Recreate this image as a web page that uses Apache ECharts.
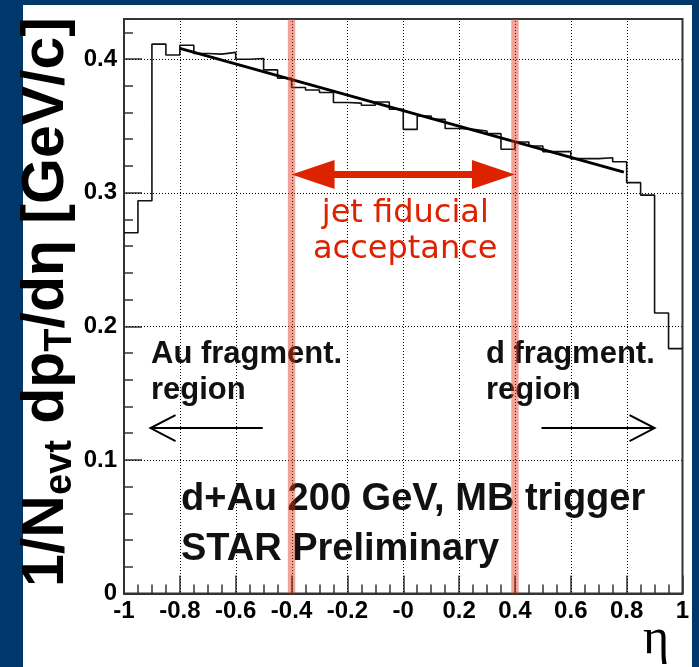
<!DOCTYPE html>
<html><head><meta charset="utf-8">
<script src="https://cdn.jsdelivr.net/npm/echarts@6/dist/echarts.min.js"></script>
<style>
html,body{margin:0;padding:0;background:#01386b;overflow:hidden;}
#panel{position:absolute;left:23px;top:5px;width:669px;height:662px;background:#fff;}
#c{position:absolute;left:0;top:0;width:699px;height:667px;}
</style>
</head><body><div id="panel"></div><div id="c"></div>
<script>
// bin edges (eta) and histogram contents
const etaEdges = [-1,-0.95,-0.9,-0.85,-0.8,-0.75,-0.7,-0.65,-0.6,-0.55,-0.5,-0.45,-0.4,-0.35,-0.3,-0.25,-0.2,-0.15,-0.1,-0.05,0,
  0.05,0.1,0.15,0.2,0.25,0.3,0.35,0.4,0.45,0.5,0.55,0.6,0.65,0.7,0.75,0.8,0.85,0.9,0.95,1];
const counts = [0.270,0.294,0.4112,0.4031,0.4104,0.4042,0.4037,0.405,0.3999,0.4004,
  0.3919,0.3857,0.3787,0.3769,0.375,0.3675,0.367,0.3654,0.3679,0.3624,
  0.3474,0.3574,0.355,0.348,0.3474,0.3462,0.3442,0.3325,0.3379,0.3349,
  0.3307,0.3307,0.3255,0.3255,0.3262,0.3232,0.3075,0.2982,0.2100,0.1833];
// linear fit
const fitEta = [-0.8, 0.79];
const fitVal = [0.408, 0.3154];
// tick labels and grid positions
const xTickLabels = ['-1','-0.8','-0.6','-0.4','-0.2','-0','0.2','0.4','0.6','0.8','1'];
const yTickLabels = ['0','0.1','0.2','0.3','0.4'];
const xGridVals = [-0.8,-0.6,-0.4,-0.2,0,0.2,0.4,0.6,0.8];
const yGridVals = [0.1,0.2,0.3,0.4];
// jet fiducial acceptance boundaries and arrow level
const bandEta = [-0.4, 0.4];
const accArrowVal = 0.3137;
// fragmentation region arrows: [from, to] in eta, at value
const auArrowEta = [-0.503, -0.905];
const dArrowEta = [0.495, 0.9];
const fragArrowVal = 0.1238;

const histData = etaEdges.map((e, i) => [e, i < counts.length ? counts[i] : counts[counts.length - 1]]);
const fitData = fitEta.map((e, i) => [e, fitVal[i]]);

const chart = echarts.init(document.getElementById('c'), null, {renderer: 'canvas'});
const gridRect = {left: 124, right: 16.5, top: 19, bottom: 73.5};
const tickColor = '#333';
const labelFont = {fontFamily: 'Liberation Sans', fontWeight: 'bold', fontSize: 24, color: '#000'};

const option = {
  animation: false,
  backgroundColor: 'transparent',
  grid: [
    Object.assign({show: true, borderColor: '#333', borderWidth: 2, backgroundColor: 'transparent'}, gridRect),
    Object.assign({show: false}, gridRect)
  ],
  xAxis: [{
    type: 'value', gridIndex: 0, min: -1, max: 1, interval: 0.2,
    axisLine: {show: true, onZero: false, lineStyle: {color: tickColor, width: 2}},
    axisTick: {show: true, inside: true, length: 18, lineStyle: {color: tickColor, width: 1.5}},
    minorTick: {show: true, splitNumber: 4, length: 9, lineStyle: {color: tickColor, width: 1.5}},
    splitLine: {show: false},
    axisLabel: Object.assign({margin: 6, formatter: v => xTickLabels[Math.round((v + 1) / 0.2)]}, labelFont)
  }, {
    type: 'value', gridIndex: 1, min: -1, max: 1, show: false
  }],
  yAxis: [{
    type: 'value', gridIndex: 0, min: 0, max: 0.43, interval: 0.1,
    axisLine: {show: true, onZero: false, lineStyle: {color: tickColor, width: 2}},
    axisTick: {show: true, inside: true, length: 18, lineStyle: {color: tickColor, width: 1.5}},
    splitLine: {show: false},
    axisLabel: Object.assign({margin: 7, formatter: v => {
      const k = Math.round(v / 0.1);
      return Math.abs(v - k * 0.1) < 1e-6 ? yTickLabels[k] : '';
    }}, labelFont)
  }, {
    type: 'value', gridIndex: 1, min: 0, max: 0.43, interval: 0.02, position: 'left',
    axisLine: {show: false, onZero: false},
    axisTick: {show: true, inside: true, length: 9, lineStyle: {color: tickColor, width: 1.5}},
    splitLine: {show: false},
    axisLabel: {show: false}
  }],
  series: [{
    type: 'line', xAxisIndex: 0, yAxisIndex: 0, step: 'end', data: histData,
    showSymbol: false, symbol: 'none',
    lineStyle: {color: '#111', width: 1.6}, z: 3
  }, {
    type: 'line', xAxisIndex: 0, yAxisIndex: 0, data: fitData,
    showSymbol: false, symbol: 'none',
    lineStyle: {color: '#000', width: 3}, z: 4
  }]
};
chart.setOption(option);

const px = (x, y) => chart.convertToPixel({gridIndex: 0}, [x, y]);
const yTop = px(0, 0.43)[1], yBot = px(0, 0)[1];
const xLeft = px(-1, 0)[0], xRight = px(1, 0)[0];
const g = [];
// dotted grid lines at the major ticks, drawn as thin rects with a dot pattern
function dotPattern(vertical) {
  const c = document.createElement('canvas');
  c.width = vertical ? 1 : 3; c.height = vertical ? 3 : 1;
  const ctx = c.getContext('2d');
  ctx.fillStyle = '#000';
  ctx.fillRect(0, 0, 1, 1);
  return {image: c, repeat: 'repeat'};
}
const patV = dotPattern(true), patH = dotPattern(false);
xGridVals.forEach(v => {
  const x = Math.round(px(v, 0)[0]);
  g.push({type: 'rect', z: 50, silent: true, shape: {x: x, y: Math.round(yTop), width: 1, height: Math.round(yBot - yTop)}, style: {fill: patV}});
});
yGridVals.forEach(v => {
  const y = Math.round(px(0, v)[1]);
  g.push({type: 'rect', z: 50, silent: true, shape: {x: Math.round(xLeft), y: y, width: Math.round(xRight - xLeft), height: 1}, style: {fill: patH}});
});
// black text annotations (y = vertical middle of the line)
const bold = (text, x, y, size) => ({
  type: 'text', z: 100, x: x, y: y,
  style: {text: text, fill: '#111', font: 'bold ' + size + 'px "Liberation Sans", Arial, sans-serif', textVerticalAlign: 'middle', textAlign: 'left'}
});
g.push(bold('Au fragment.', 151, 354, 31));
g.push(bold('region', 151, 390, 31));
g.push(bold('d fragment.', 486, 354, 31));
g.push(bold('region', 486, 390, 31));
g.push(bold('d+Au 200 GeV, MB trigger', 181, 500, 38));
g.push(bold('STAR Preliminary', 181, 550, 38));
// fragmentation arrows (open heads)
function openArrow(fromEta, toEta, val) {
  const a = px(fromEta, val), b = px(toEta, val);
  const dir = Math.sign(b[0] - a[0]);
  g.push({type: 'line', z: 100, shape: {x1: a[0], y1: a[1], x2: b[0], y2: b[1]}, style: {stroke: '#000', lineWidth: 2}});
  g.push({type: 'polyline', z: 100, shape: {points: [[b[0] - dir * 25, b[1] - 13], [b[0], b[1]], [b[0] - dir * 25, b[1] + 13]]}, style: {stroke: '#000', lineWidth: 2, fill: null}});
}
openArrow(auArrowEta[0], auArrowEta[1], fragArrowVal);
openArrow(dArrowEta[0], dArrowEta[1], fragArrowVal);
// acceptance bands
bandEta.forEach(e => {
  const c = px(e, 0)[0];
  g.push({type: 'rect', z: 110, shape: {x: c - 3.7, y: yTop, width: 7.4, height: yBot - yTop}, style: {fill: 'rgba(225,50,30,0.45)'}});
});
// red double arrow
const L = px(bandEta[0], accArrowVal), R = px(bandEta[1], accArrowVal);
const red = '#dd2200';
g.push({type: 'rect', z: 105, shape: {x: L[0] + 40, y: L[1] - 3.5, width: R[0] - L[0] - 80, height: 7}, style: {fill: red}});
g.push({type: 'polygon', z: 105, shape: {points: [[L[0], L[1]], [L[0] + 43, L[1] - 14.5], [L[0] + 43, L[1] + 14.5]]}, style: {fill: red}});
g.push({type: 'polygon', z: 105, shape: {points: [[R[0], R[1]], [R[0] - 43, R[1] - 14.5], [R[0] - 43, R[1] + 14.5]]}, style: {fill: red}});
const redText = (t, y) => ({type: 'text', z: 105, x: (L[0] + R[0]) / 2 + 2, y: y,
  style: {text: t, fill: red, font: '32px "DejaVu Sans", sans-serif', textAlign: 'center', textVerticalAlign: 'middle'}});
g.push(redText('jet fiducial', 214));
g.push(redText('acceptance', 250));
// axis titles
g.push({type: 'text', z: 100, x: 656, y: 640,
  style: {text: 'η', fill: '#000', font: '50px "Liberation Serif", "DejaVu Serif", serif', textAlign: 'center', textVerticalAlign: 'middle'}});
g.push({type: 'text', z: 100, x: 47, y: 302, rotation: Math.PI / 2,
  style: {
    text: '{a|1/N}{s|evt}{a| dp}{s|T}{a|/dη [GeV/c]}',
    align: 'center', verticalAlign: 'middle', fill: '#000',
    rich: {
      a: {fontFamily: 'Liberation Sans', fontWeight: 'bold', fontSize: 59, lineHeight: 66, fill: '#000'},
      s: {fontFamily: 'Liberation Sans', fontWeight: 'bold', fontSize: 38, lineHeight: 38, verticalAlign: 'bottom', fill: '#000'}
    }
  }});
chart.setOption({graphic: {elements: g}});
</script>
</body></html>
